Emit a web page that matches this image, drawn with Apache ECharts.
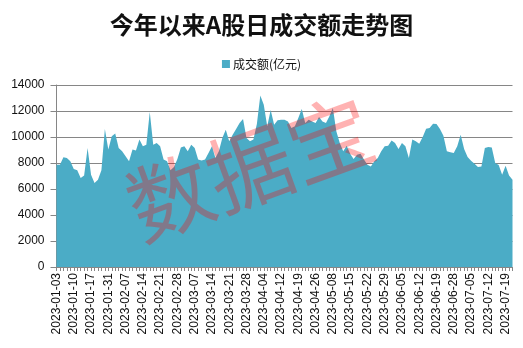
<!DOCTYPE html>
<html>
<head>
<meta charset="utf-8">
<script src="https://cdn.jsdelivr.net/npm/echarts@6/dist/echarts.min.js"></script>
<style>
  html, body { margin: 0; padding: 0; background: #fff; }
  #chart { width: 523px; height: 348px; }
</style>
</head>
<body>
<div id="chart"></div>
<script>
// Trading days of 2023 (Shanghai + Shenzhen), Jan 3 to Jul 21
const dates = [
  '2023-01-03','2023-01-04','2023-01-05','2023-01-06','2023-01-09','2023-01-10','2023-01-11','2023-01-12','2023-01-13',
  '2023-01-16','2023-01-17','2023-01-18','2023-01-19','2023-01-20','2023-01-30','2023-01-31',
  '2023-02-01','2023-02-02','2023-02-03','2023-02-06','2023-02-07','2023-02-08','2023-02-09','2023-02-10',
  '2023-02-13','2023-02-14','2023-02-15','2023-02-16','2023-02-17','2023-02-20','2023-02-21','2023-02-22',
  '2023-02-23','2023-02-24','2023-02-27','2023-02-28',
  '2023-03-01','2023-03-02','2023-03-03','2023-03-06','2023-03-07','2023-03-08','2023-03-09','2023-03-10',
  '2023-03-13','2023-03-14','2023-03-15','2023-03-16','2023-03-17','2023-03-20','2023-03-21','2023-03-22',
  '2023-03-23','2023-03-24','2023-03-27','2023-03-28','2023-03-29','2023-03-30','2023-03-31',
  '2023-04-03','2023-04-04','2023-04-06','2023-04-07','2023-04-10','2023-04-11','2023-04-12','2023-04-13',
  '2023-04-14','2023-04-17','2023-04-18','2023-04-19','2023-04-20','2023-04-21','2023-04-24','2023-04-25',
  '2023-04-26','2023-04-27','2023-04-28',
  '2023-05-04','2023-05-05','2023-05-08','2023-05-09','2023-05-10','2023-05-11','2023-05-12','2023-05-15',
  '2023-05-16','2023-05-17','2023-05-18','2023-05-19','2023-05-22','2023-05-23','2023-05-24','2023-05-25',
  '2023-05-26','2023-05-29','2023-05-30','2023-05-31',
  '2023-06-01','2023-06-02','2023-06-05','2023-06-06','2023-06-07','2023-06-08','2023-06-09','2023-06-12',
  '2023-06-13','2023-06-14','2023-06-15','2023-06-16','2023-06-19','2023-06-20','2023-06-21','2023-06-26',
  '2023-06-27','2023-06-28','2023-06-29','2023-06-30',
  '2023-07-03','2023-07-04','2023-07-05','2023-07-06','2023-07-07','2023-07-10','2023-07-11','2023-07-12',
  '2023-07-13','2023-07-14','2023-07-17','2023-07-18','2023-07-19','2023-07-20','2023-07-21'
];

// Daily turnover, 100 million yuan
const turnover = [
  7870, 7870, 8440, 8380, 8130, 7540, 7440, 6850, 7030, 9150,
  7100, 6460, 6720, 7440, 10620, 9030, 10050, 10260, 9150, 8900,
  8510, 8130, 9030, 8970, 9800, 9280, 9410, 11920, 9410, 9540,
  9280, 8260, 8130, 7440, 7690, 8300, 9200, 9280, 8900, 9410,
  9150, 8260, 8200, 8260, 8770, 9280, 8380, 8900, 9920, 10560,
  9670, 10180, 10620, 11080, 11380, 9920, 9670, 9800, 11000, 13200,
  12490, 10820, 12080, 10950, 11280, 11330, 11330, 11200, 10690, 10820,
  11460, 12150, 11080, 11330, 11200, 11080, 11540, 11200, 11080, 11590,
  12230, 10440, 9540, 8900, 9330, 8720, 8310, 8640, 8720, 8260,
  7870, 7740, 8130, 8380, 8900, 9280, 9330, 9740, 9540, 9080,
  9540, 9280, 8380, 9800, 9670, 9490, 10000, 10640, 10690, 11020,
  11000, 10620, 10100, 8900, 8820, 8770, 9280, 10180, 9080, 8460,
  8180, 7950, 7690, 7740, 9150, 9230, 9200, 8000, 7850, 7100,
  7790, 7030, 6720
];

const yTicks = { min: 0, max: 14000, interval: 2000 };
const titleText = '今年以来A股日成交额走势图';
const seriesName = '成交额(亿元)';
const watermark = '数据宝';

const chart = echarts.init(document.getElementById('chart'), null, { renderer: 'canvas' });

chart.setOption({
  animation: false,
  backgroundColor: '#ffffff',
  title: {
    text: titleText,
    left: 'center',
    top: 8,
    textStyle: {
      fontFamily: '"Noto Sans CJK SC", sans-serif',
      fontSize: 24,
      fontWeight: 'bold',
      color: '#111111'
    }
  },
  legend: {
    data: [seriesName],
    top: 53,
    left: 'center',
    icon: 'rect',
    itemWidth: 8,
    itemHeight: 8,
    itemGap: 4,
    textStyle: {
      fontFamily: '"Noto Sans CJK SC", sans-serif',
      fontSize: 12,
      color: '#111111',
      padding: [0, 0, 0, -2]
    }
  },
  grid: {
    left: 56.5,
    right: 10.5,
    top: 85,
    bottom: 81,
    containLabel: false
  },
  xAxis: {
    type: 'category',
    data: dates,
    boundaryGap: false,
    axisLine: { lineStyle: { color: '#868686', width: 1 } },
    axisTick: {
      show: true,
      interval: 0,
      length: 4,
      lineStyle: { color: '#868686' }
    },
    axisLabel: {
      interval: 4,
      rotate: 90,
      margin: 6,
      fontFamily: '"Liberation Sans", Arial, sans-serif',
      fontSize: 12,
      color: '#111111'
    },
    splitLine: { show: false }
  },
  yAxis: {
    type: 'value',
    min: yTicks.min,
    max: yTicks.max,
    interval: yTicks.interval,
    axisLine: { show: true, lineStyle: { color: '#868686', width: 1 } },
    axisTick: { show: true, length: 6, lineStyle: { color: '#868686' } },
    axisLabel: {
      margin: 12,
      formatter: (v) => String(v),
      fontFamily: '"Liberation Sans", Arial, sans-serif',
      fontSize: 12,
      color: '#111111'
    },
    splitLine: { show: true, lineStyle: { color: '#868686', width: 1 } }
  },
  series: [{
    name: seriesName,
    type: 'line',
    data: turnover,
    symbol: 'none',
    smooth: false,
    lineStyle: { width: 0, color: '#4BACC6' },
    itemStyle: { color: '#4BACC6' },
    areaStyle: { color: '#4BACC6', opacity: 1 },
    z: 2
  }],
  graphic: [{
    type: 'text',
    z: 100,
    x: 250,
    y: 168,
    rotation: 20 * Math.PI / 180,
    style: {
      text: watermark,
      fontFamily: '"Noto Sans CJK SC", sans-serif',
      fontSize: 85,
      fill: 'rgba(255, 0, 0, 0.3)',
      align: 'center',
      verticalAlign: 'middle'
    }
  }]
});
</script>
</body>
</html>
